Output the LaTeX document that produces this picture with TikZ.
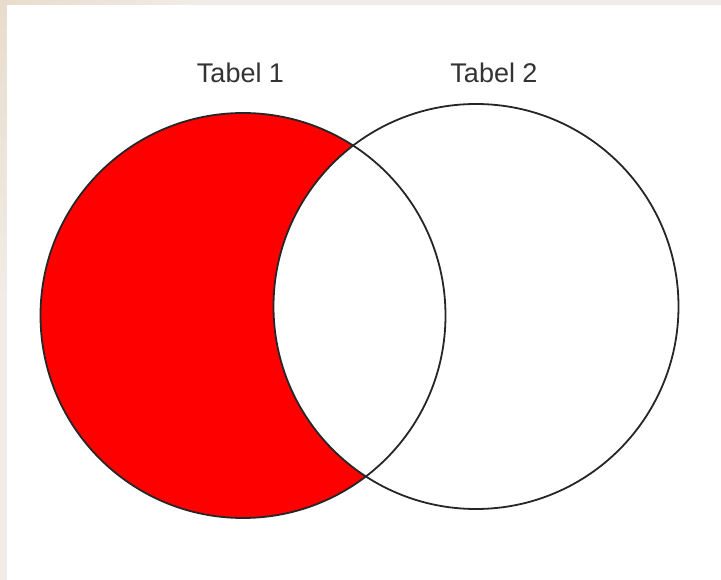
\documentclass[tikz,border=0pt]{standalone}
\usepackage{fontspec}
\setmainfont{Liberation Sans}
\definecolor{bgbeige}{HTML}{F1ECE7}
\definecolor{bgdark}{HTML}{E8DCCC}
\definecolor{edge}{HTML}{262626}
\definecolor{labelgray}{HTML}{333333}
\begin{document}
\begin{tikzpicture}[x=1pt,y=-1pt,
  ring/.style={draw=edge,line width=1.8pt},
  lbl/.style={anchor=base,inner sep=0pt,text=labelgray,font=\fontsize{27}{30}\selectfont}]
\useasboundingbox (0,0) rectangle (721,580);
\fill[bgbeige] (0,0) rectangle (721,580);
\shade[left color=bgdark,right color=bgbeige] (0,0) rectangle (200,5);
\shade[top color=bgdark,bottom color=bgbeige] (0,0) rectangle (7,300);
\fill[white] (7,5) rectangle (721,580);
\coordinate (c1) at (243,315.5);
\coordinate (c2) at (476,306.5);
\fill[red] (c1) circle[radius=202.5pt];
\fill[white] (c2) circle[radius=202.5pt];
\draw[ring] (c1) circle[radius=202.5pt];
\draw[ring] (c2) circle[radius=202.5pt];
\node[lbl] (t1) at (240.5,83) {Tabel 1};
\node[lbl] (t2) at (494,83) {Tabel 2};
\end{tikzpicture}
\end{document}
